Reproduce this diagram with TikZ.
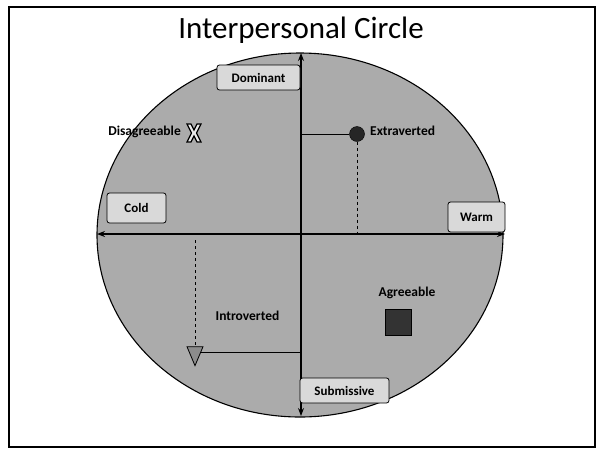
\documentclass[tikz,border=0pt]{standalone}
\usepackage{fontspec}
\setmainfont{Carlito}
\usetikzlibrary{positioning,arrows.meta,shapes.geometric}

\tikzset{
  axisbox/.style={draw, thick, rounded corners=2.5pt, fill=black!15,
    font=\fontsize{13}{15}\selectfont\bfseries, inner sep=0pt},
  trait/.style={font=\fontsize{13.5}{15}\selectfont\bfseries, inner sep=0pt},
}

\begin{document}
\begin{tikzpicture}[x=1pt,y=-1pt]
\useasboundingbox (0,0) rectangle (598,451);

% Outer frame
\draw[line width=1.6pt] (9,7) rectangle (595,447);

% Title
\node[font=\fontsize{31}{34}\selectfont] (title) at (301,30) {Interpersonal Circle};

% The circle
\draw[line width=1.1pt, fill=black!33] (300,235) ellipse [x radius=203pt, y radius=182pt];

% Axis ends
\coordinate (top) at (301,53);
\coordinate (bottom) at (301,416);
\coordinate (left) at (97,234);
\coordinate (right) at (505,234);

\draw[line width=1.2pt, {Stealth[length=8pt]}-{Stealth[length=8pt]}] (left) -- (right);
\draw[line width=1.2pt, {Stealth[length=8pt]}-{Stealth[length=8pt]}] (top) -- (bottom);

% Axis labels
\node[axisbox, minimum width=83pt, minimum height=25pt] (dom) at (258.5,77.5) {Dominant};
\node[axisbox, minimum width=89pt, minimum height=25pt] (sub) at (344.5,390.5) {Submissive};
\node[axisbox, minimum width=59pt, minimum height=30pt] (cold) at (136.5,208) {Cold};
\node[axisbox, minimum width=57pt, minimum height=30pt] (warm) at (476.5,217) {Warm};

% Extraverted
\node[circle, draw, fill=black!85, minimum size=15pt, inner sep=0pt] (extra) at (357,134) {};
\node[trait, anchor=west] (extratxt) at (370,131) {Extraverted};
\draw[thick] (extra) -- (extra -| top);
\draw[thick, dashed] (extra) -- (extra |- right);

% Introverted
\node[isosceles triangle, isosceles triangle stretches, shape border rotate=-90,
  draw, thick, fill=black!45, minimum width=16pt, minimum height=19pt, inner sep=0pt] (intro) at (195,352) {};
\node[trait] (introtxt) at (247.5,316) {Introverted};
\coordinate (introstart) at (195,240);
\draw[dashed] (introstart) -- (intro);
\draw[thick] (intro) -- (intro -| top);

% Disagreeable
\draw[line width=1.2pt, fill=black!8, shift={(194,133)}]
  (-7,-9) -- (-3,-9) -- (0,-3) -- (3,-9) -- (7,-9) -- (2.5,0) -- (7,9) -- (3,9)
  -- (0,3) -- (-3,9) -- (-7,9) -- (-2.5,0) -- cycle;
\node[trait, anchor=east] (distxt) at (181,132) {Disagreeable};

% Agreeable
\node[draw, fill=black!80, minimum size=26pt, inner sep=0pt] (agree) at (398,322) {};
\node[trait] (agreetxt) at (407,293) {Agreeable};

\end{tikzpicture}
\end{document}
